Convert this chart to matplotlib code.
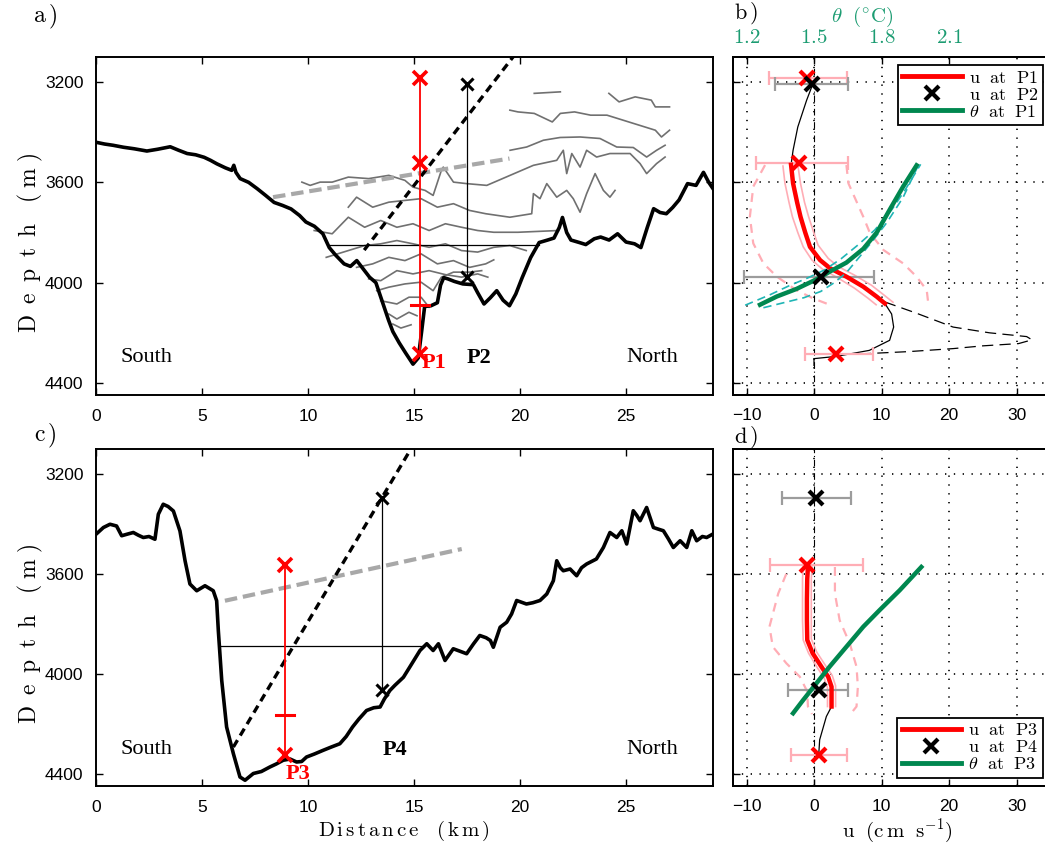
import numpy as np
import matplotlib.pyplot as plt
from matplotlib.lines import Line2D

plt.rcParams['font.family'] = ['Liberation Sans', 'DejaVu Sans']
plt.rcParams['mathtext.fontset'] = 'cm'

# ---------------- sections (distance km, depth m) ----------------
bathy_a = [(0.0, 3440), (0.4, 3447), (0.8, 3452), (1.3, 3460), (1.8, 3466), (2.4, 3475),
           (2.9, 3468), (3.5, 3458), (3.9, 3472), (4.3, 3485), (4.7, 3490), (5.1, 3500),
           (5.4, 3512), (5.7, 3526), (6.1, 3542), (6.4, 3552), (6.5, 3532), (6.6, 3560),
           (6.8, 3585), (7.2, 3600), (7.6, 3625), (8.0, 3652), (8.4, 3680), (8.8, 3692),
           (9.2, 3706), (9.6, 3732), (9.9, 3758), (10.3, 3775), (10.7, 3805), (11.0, 3860),
           (11.3, 3890), (11.7, 3925), (12.0, 3935), (12.3, 3912), (12.6, 3945), (12.9, 3978),
           (13.2, 4000), (13.5, 4075), (13.8, 4150), (14.0, 4195), (14.3, 4240), (14.6, 4280),
           (14.95, 4325), (15.2, 4300), (15.35, 4200), (15.5, 4095), (15.8, 4092), (16.1, 4080),
           (16.25, 4010), (16.4, 3980), (16.6, 3985), (16.9, 3995), (17.3, 4005), (17.8, 4008),
           (18.0, 4040), (18.3, 4085), (18.6, 4060), (18.9, 4032), (19.2, 4070), (19.5, 4092),
           (19.8, 4045), (20.1, 3980), (20.5, 3900), (20.9, 3840), (21.3, 3830), (21.6, 3822),
           (21.85, 3780), (22.0, 3740), (22.2, 3800), (22.4, 3830), (22.8, 3840), (23.1, 3848),
           (23.5, 3825), (23.8, 3818), (24.2, 3830), (24.6, 3805), (25.0, 3838), (25.4, 3845),
           (25.7, 3860), (26.0, 3780), (26.3, 3705), (26.6, 3720), (26.9, 3725), (27.2, 3700),
           (27.5, 3670), (27.9, 3605), (28.3, 3612), (28.65, 3560), (28.9, 3600), (29.1, 3625)]

bathy_c = [(0.0, 3441), (0.35, 3414), (0.66, 3401), (0.97, 3408), (1.21, 3447), (1.5, 3440),
           (1.76, 3434), (2.0, 3445), (2.23, 3454), (2.5, 3450), (2.78, 3461), (2.94, 3361),
           (3.17, 3321), (3.4, 3330), (3.65, 3348), (3.96, 3428), (4.2, 3547), (4.43, 3640),
           (4.75, 3667), (5.14, 3647), (5.53, 3667), (5.69, 3707), (5.77, 3827), (5.93, 4026),
           (6.16, 4212), (6.48, 4319), (6.79, 4412), (7.03, 4425), (7.42, 4398), (7.8, 4390),
           (8.2, 4372), (8.5, 4360), (8.83, 4345), (9.15, 4340), (9.46, 4352), (9.7, 4350),
           (9.93, 4332), (10.3, 4320), (10.72, 4305), (11.1, 4292), (11.5, 4279), (11.8, 4250),
           (12.1, 4212), (12.4, 4180), (12.76, 4146), (13.1, 4135), (13.4, 4132), (13.6, 4100),
           (13.86, 4066), (14.1, 4045), (14.5, 4013), (14.8, 3972), (15.28, 3906), (15.6, 3879),
           (15.9, 3906), (16.15, 3879), (16.46, 3946), (16.85, 3899), (17.2, 3910), (17.48, 3919),
           (17.8, 3880), (18.1, 3846), (18.4, 3855), (18.6, 3866), (18.74, 3893), (19.06, 3813),
           (19.37, 3793), (19.6, 3760), (19.84, 3706), (20.3, 3720), (20.6, 3715), (20.94, 3706),
           (21.26, 3680), (21.57, 3627), (21.73, 3547), (21.9, 3575), (22.04, 3587), (22.36, 3580),
           (22.67, 3607), (22.9, 3575), (23.14, 3560), (23.6, 3540), (23.93, 3494), (24.24, 3434),
           (24.56, 3454), (24.8, 3427), (25.03, 3480), (25.34, 3347), (25.5, 3365), (25.66, 3387),
           (25.97, 3334), (26.29, 3414), (26.5, 3420), (26.76, 3427), (27.0, 3460), (27.23, 3494),
           (27.55, 3467), (27.86, 3494), (28.1, 3427), (28.33, 3467), (28.6, 3450), (28.8, 3454),
           (29.1, 3440)]

# isotherms drawn in section a
isotherms_a = [
    [(20.67, 3245), (21.9, 3239)],
    [(24.19, 3245), (24.67, 3279), (25.43, 3259), (26.19, 3272), (26.38, 3299), (27.05, 3299)],
    [(19.52, 3312), (19.9, 3319), (20.67, 3325), (21.52, 3359), (21.9, 3325), (22.57, 3319),
     (23.33, 3332), (24.1, 3332), (24.86, 3352), (25.62, 3372), (26.38, 3392), (26.67, 3419),
     (27.05, 3392)],
    [(19.53, 3472), (20.31, 3459), (21.1, 3432), (21.89, 3421), (22.83, 3419), (23.77, 3425),
     (24.56, 3459), (25.34, 3461), (25.97, 3499), (26.44, 3472), (26.84, 3452)],
    [(9.71, 3599), (10.1, 3612), (10.57, 3599), (11.14, 3599), (11.9, 3579), (12.86, 3585),
     (13.81, 3572), (14.57, 3592), (14.95, 3619), (15.52, 3632), (15.9, 3652), (16.29, 3552),
     (16.38, 3539), (16.86, 3599), (17.48, 3605), (18.43, 3612), (19.53, 3572), (20.63, 3532),
     (21.73, 3512), (22.04, 3472), (22.2, 3565), (22.44, 3485), (22.83, 3539), (23.14, 3472),
     (23.61, 3499), (24.24, 3485), (25.19, 3485), (25.66, 3525), (25.97, 3565), (26.44, 3525),
     (26.84, 3499)],
    [(11.9, 3699), (12.29, 3659), (13.05, 3699), (13.81, 3679), (14.57, 3672), (15.33, 3665),
     (16.1, 3699), (16.86, 3685), (17.62, 3712), (18.38, 3725), (19.52, 3739), (20.55, 3725),
     (20.63, 3645), (20.94, 3665), (21.26, 3605), (21.73, 3659), (22.2, 3632), (22.51, 3665),
     (22.83, 3719), (23.14, 3645), (23.54, 3565), (23.93, 3632), (24.24, 3659), (24.48, 3632)],
    [(10.29, 3792), (11.14, 3805), (11.9, 3739), (12.67, 3779), (13.43, 3752), (14.19, 3779),
     (14.95, 3765), (15.71, 3792), (16.48, 3765), (17.24, 3779), (18.0, 3792), (18.76, 3799),
     (19.9, 3799), (21.81, 3792)],
    [(10.86, 3899), (11.9, 3872), (12.67, 3852), (13.43, 3845), (14.19, 3832), (14.95, 3845),
     (15.71, 3859), (16.48, 3845), (17.24, 3872), (18.0, 3878), (18.76, 3859), (19.52, 3852),
     (20.29, 3872)],
    [(12.29, 3939), (13.05, 3925), (13.81, 3899), (14.57, 3912), (15.33, 3885), (16.1, 3925),
     (16.86, 3912), (17.62, 3939), (18.38, 3925), (18.76, 3909)],
    [(12.86, 3985), (13.43, 3992), (14.19, 3952), (14.95, 3965), (15.71, 3952), (16.48, 3968),
     (17.24, 3978), (18.0, 3965), (18.48, 3978)],
    [(13.24, 4032), (13.81, 4018), (14.57, 4005), (15.33, 3998), (15.9, 4032), (16.29, 3978),
     (16.86, 3958), (17.62, 3958), (18.19, 3952)],
    [(13.43, 4072), (14.19, 4085), (14.76, 4058), (15.33, 4058), (15.71, 4098)],
    [(13.81, 4125), (14.19, 4145), (14.76, 4118), (15.14, 4132)],
    [(14.0, 4165), (14.38, 4181), (14.86, 4168)],
]

# moorings: position (km) and instrument depths (m)
p1_km, p1_depth, p1_mark = 15.3, [3185, 3523, 4285], 4090
p2_km, p2_depth = 17.5, [3207, 3978]
p3_km, p3_depth, p3_mark = 8.9, [3562, 4325], 4163
p4_km, p4_depth = 13.5, [3297, 4065]

# reference lines in the sections
level_a = ([11.0, 20.9], 3848)
level_c = ([5.9, 15.45], 3889)
slope_a = [(12.65, 3870), (19.85, 3080)]
slope_c = [(6.48, 4292), (14.85, 3100)]
grey_a = [(8.35, 3659), (19.5, 3505)]
grey_c = [(6.08, 3707), (17.25, 3500)]

# ---------------- profiles (u cm/s, depth m) ----------------
u_p1 = [(-3.4, 3530), (-3.1, 3604), (-2.5, 3680), (-2.0, 3737), (-1.3, 3800), (-0.6, 3857),
        (0.9, 3910), (2.4, 3943), (4.8, 3976), (7.3, 4016), (9.3, 4056), (10.5, 4083)]
u_p1_lo = [(-4.6, 3535), (-4.3, 3604), (-3.7, 3680), (-3.2, 3737), (-2.4, 3800), (-1.6, 3857),
           (-0.3, 3910), (1.2, 3945), (3.6, 3982), (6.0, 4022), (8.0, 4062), (9.2, 4088)]
u_p1_hi = [(-2.4, 3530), (-2.0, 3604), (-1.4, 3680), (-0.8, 3737), (-0.1, 3795), (0.6, 3850),
           (2.1, 3903), (3.6, 3936), (6.0, 3970), (8.5, 4010), (10.4, 4050), (11.7, 4078)]
u_p1_min = [(-7.25, 3531), (-9.0, 3617), (-9.5, 3737), (-9.0, 3843), (-7.5, 3923), (-5.5, 3976),
            (-2.6, 4030), (-0.1, 4063), (2.4, 4089)]
u_p1_max = [(4.8, 3531), (5.1, 3604), (7.3, 3737), (8.3, 3803), (10.3, 3870), (13.2, 3923),
            (15.2, 3976), (16.7, 4030), (16.9, 4076)]
u_p1_fit = [(-0.25, 3213), (-1.1, 3273), (-2.4, 3379), (-3.1, 3472), (-3.4, 3530), (-3.1, 3604),
            (-2.5, 3680), (-2.0, 3737), (-1.3, 3800), (-0.6, 3857), (0.9, 3910), (2.4, 3943),
            (4.8, 3976), (7.3, 4016), (9.3, 4056), (10.5, 4083), (11.5, 4125), (11.8, 4177),
            (11.2, 4230), (8.2, 4270), (3.3, 4294), (0.0, 4303), (0.0, 4330)]
u_p1_extra = [(10.5, 4077), (15.0, 4120), (20.6, 4177), (26.0, 4200), (31.5, 4215), (32.3, 4228),
              (30.3, 4243), (25.0, 4252), (20.6, 4263), (14.0, 4275), (7.75, 4283)]

theta_p1 = [(1.956, 3532), (1.896, 3617), (1.839, 3705), (1.779, 3800), (1.719, 3865), (1.644, 3920),
            (1.572, 3955), (1.515, 3985), (1.422, 4025), (1.335, 4055), (1.26, 4088)]
theta_p1_a = [(1.194, 4090), (1.305, 4048), (1.395, 4010), (1.47, 3982), (1.545, 3950), (1.62, 3905),
              (1.695, 3850), (1.77, 3790), (1.845, 3710), (1.905, 3630), (1.974, 3528)]
theta_p1_b = [(1.275, 4100), (1.365, 4080), (1.455, 4060), (1.53, 4035), (1.59, 4000), (1.644, 3960),
              (1.695, 3905), (1.755, 3840), (1.824, 3760), (1.896, 3660), (1.962, 3535)]

p1_u = [-1.0, -2.2, 3.3]
p1_err = [[5.7, 6.4, 4.7], [5.9, 7.2, 5.5]]
p2_u = [-0.25, 1.1]
p2_err = [[5.55, 11.5], [5.25, 7.8]]

u_p3 = [(-0.9, 3572), (-1.0, 3620), (-1.05, 3700), (-1.05, 3785), (-1.0, 3864), (-0.2, 3917),
        (1.1, 3971), (2.1, 4011), (2.6, 4051), (2.6, 4090), (2.6, 4130)]
u_p3_lo = [(-1.6, 3572), (-1.7, 3620), (-1.7, 3700), (-1.7, 3785), (-1.6, 3864), (-0.8, 3917),
           (0.5, 3975), (1.5, 4015), (2.0, 4055), (2.0, 4090), (2.0, 4130)]
u_p3_hi = [(-0.3, 3572), (-0.4, 3620), (-0.4, 3700), (-0.4, 3785), (-0.4, 3860), (0.4, 3912),
           (1.7, 3966), (2.7, 4006), (3.2, 4047), (3.2, 4090), (3.2, 4130)]
u_p3_min = [(-4.1, 3599), (-5.3, 3678), (-6.6, 3811), (-6.1, 3891), (-4.1, 3957), (-2.1, 4011),
            (-1.0, 4070), (-0.9, 4130), (-0.3, 4160)]
u_p3_max = [(3.1, 3572), (3.1, 3678), (3.8, 3785), (5.3, 3878), (6.3, 3971), (6.5, 4051),
            (6.3, 4130), (5.5, 4157)]
u_p3_fit = [(2.6, 4130), (1.83, 4170), (0.84, 4263), (0.7, 4323)]
theta_p3 = [(1.977, 3572), (1.881, 3665), (1.791, 3745), (1.719, 3811), (1.644, 3891), (1.569, 3971),
            (1.511, 4037), (1.452, 4104), (1.407, 4157)]

p3_u = [-1.1, 0.75]
p3_err = [[5.4, 4.2], [8.3, 4.2]]
p4_u = [0.35, 0.7]
p4_err = [[5.1, 4.55], [5.1, 4.3]]

u_ticks = [-10, 0, 10, 20, 30]
theta_ticks = [1.2, 1.5, 1.8, 2.1]
depth_ticks = [3200, 3600, 4000, 4400]
dist_ticks = [0, 5, 10, 15, 20, 25]

RED = '#ff0000'
PINK = '#ffadb5'
GREEN = '#00874f'
TGREEN = '#1c9c72'
CYAN = '#1fb5b5'
GREY = '#9c9c9c'

W, H = 1045, 847
fig = plt.figure(figsize=(W / 100, H / 100), dpi=100)
axA = fig.add_axes([96 / W, 1 - 395 / H, 617 / W, 338 / H])
axC = fig.add_axes([96 / W, 1 - 786 / H, 617 / W, 337 / H])
axB = fig.add_axes([733 / W, 1 - 395 / H, 324 / W, 338 / H])
axD = fig.add_axes([733 / W, 1 - 786 / H, 324 / W, 337 / H])

serif = 'Liberation Serif'


def xy(pairs):
    a = np.array(pairs, dtype=float)
    return a[:, 0], a[:, 1]


def section(ax, bathy, level, slope, grey, pr, pr_depth, pr_mark, pb, pb_depth):
    ax.plot(level[0], [level[1]] * 2, color='k', lw=0.9)
    ax.plot([pb, pb], [pb_depth[0], pb_depth[-1]], color='k', lw=0.9)
    gx, gy = xy(grey)
    ax.plot(gx, gy, color='#a8a8a8', lw=3, linestyle=(0, (3, 1.4)))
    sx, sy = xy(slope)
    ax.plot(sx, sy, color='k', lw=2.4, linestyle=(0, (2.4, 1.6)))
    bx, by = xy(bathy)
    ax.plot(bx, by, color='k', lw=2.6, solid_joinstyle='round')
    ax.plot([pr, pr], [pr_depth[0], pr_depth[-1]], color=RED, lw=1.3)
    ax.plot([pr - 0.42, pr + 0.42], [pr_mark, pr_mark], color=RED, lw=2.2)
    ax.plot([pr] * len(pr_depth), pr_depth, 'x', color=RED, ms=10, mew=2.6)
    ax.plot([pb] * len(pb_depth), pb_depth, 'x', color='k', ms=9, mew=2.2)
    ax.set_xlim(0, 29.1)
    ax.set_ylim(4448, 3100)
    ax.set_xticks(dist_ticks)
    ax.set_yticks(depth_ticks)
    ax.tick_params(direction='in', top=True, right=True, length=5, width=1,
                   labelsize=12.5)
    ax.tick_params(axis='x', pad=10)
    ax.tick_params(axis='y', pad=9)
    for s in ax.spines.values():
        s.set_linewidth(1.4)


# ---------------- panel a ----------------
for line in isotherms_a:
    ix, iy = xy(line)
    axA.plot(ix, iy, color='#707070', lw=1.2)
section(axA, bathy_a, level_a, slope_a, grey_a, p1_km, p1_depth, p1_mark, p2_km, p2_depth)
axA.text(2.4, 4300, 'South', fontsize=16, family=serif, ha='center', va='center')
axA.text(26.25, 4300, 'North', fontsize=16, family=serif, ha='center', va='center')
axA.text(15.35, 4322, 'P1', fontsize=16, family=serif, weight='bold', color=RED,
         ha='left', va='center')
axA.text(17.5, 4302, 'P2', fontsize=16, family=serif, weight='bold', ha='left', va='center')

# ---------------- panel c ----------------
section(axC, bathy_c, level_c, slope_c, grey_c, p3_km, p3_depth, p3_mark, p4_km, p4_depth)
axC.text(2.4, 4302, 'South', fontsize=16, family=serif, ha='center', va='center')
axC.text(26.25, 4302, 'North', fontsize=16, family=serif, ha='center', va='center')
axC.text(8.95, 4398, 'P3', fontsize=16, family=serif, weight='bold', color=RED,
         ha='left', va='center')
axC.text(13.5, 4302, 'P4', fontsize=16, family=serif, weight='bold', ha='left', va='center')


# ---------------- profile panels ----------------
def profile(ax, u_main, u_lo, u_hi, u_min, u_max, fit, theta, red_u, red_depth, red_err,
            blk_u, blk_depth, blk_err, theta_env=None, extra=None):
    ax.set_xlim(-12, 36)
    ax.set_ylim(4448, 3100)
    ax.set_xticks(u_ticks)
    ax.set_yticks(depth_ticks)
    ax.grid(True, color='k', lw=1.2, linestyle=(0, (0.8, 4.5)))
    ax.axvline(0, color='k', lw=0.8, linestyle=(0, (6, 2.5, 1, 2.5)))
    for env in (u_min, u_max):
        ex, ey = xy(env)
        ax.plot(ex, ey, color=PINK, lw=1.6, linestyle=(0, (4, 3)))
    for env in (u_lo, u_hi):
        ex, ey = xy(env)
        ax.plot(ex, ey, color=PINK, lw=1.2)
    if extra is not None:
        ex, ey = xy(extra)
        ax.plot(ex, ey, color='k', lw=0.9, linestyle=(0, (9, 5)))
    fx, fy = xy(fit)
    ax.plot(fx, fy, color='k', lw=0.9)
    ax.errorbar(red_u, red_depth, xerr=red_err, fmt='none', ecolor=PINK, elinewidth=1.6,
                capsize=5, capthick=1.6)
    ax.errorbar(blk_u, blk_depth, xerr=blk_err, fmt='none', ecolor=GREY, elinewidth=1.6,
                capsize=5, capthick=1.6)
    mx, my = xy(u_main)
    ax.plot(mx, my, color=RED, lw=3.2)
    top = ax.twiny()
    top.set_xlim(1.5 + 0.03 * np.array(ax.get_xlim()))
    top.set_xticks(theta_ticks)
    if theta_env is not None:
        for env in theta_env:
            ex, ey = xy(env)
            ax.plot(ex, ey, color=CYAN, lw=1.2, linestyle=(0, (5, 3)),
                    transform=top.transData)
    tx, ty = xy(theta)
    ax.plot(tx, ty, color=GREEN, lw=3.2, transform=top.transData)
    ax.plot(red_u, red_depth, 'x', color=RED, ms=10, mew=3)
    ax.plot(blk_u, blk_depth, 'x', color='k', ms=10, mew=3)
    ax.tick_params(direction='in', length=5, width=1, labelsize=12.5, labelleft=False,
                   pad=9)
    top.tick_params(direction='in', length=5, width=1, pad=7)
    for s in ax.spines.values():
        s.set_linewidth(1.4)
    for s in top.spines.values():
        s.set_linewidth(1.4)
    return top


def legend(ax, names, anchor, loc):
    handles = [Line2D([], [], color=RED, lw=3.5),
               Line2D([], [], color='k', marker='x', ms=10, mew=3, linestyle='none'),
               Line2D([], [], color=GREEN, lw=3.5)]
    leg = ax.legend(handles, names, loc=loc, bbox_to_anchor=anchor,
                    bbox_transform=fig.transFigure, fontsize=13, handlelength=3.3,
                    handletextpad=0.4, labelspacing=0.0, borderpad=0.25,
                    borderaxespad=0, fancybox=False, framealpha=1, edgecolor='k')
    leg.get_frame().set_linewidth(1.3)


topB = profile(axB, u_p1, u_p1_lo, u_p1_hi, u_p1_min, u_p1_max, u_p1_fit, theta_p1,
               p1_u, p1_depth, p1_err, p2_u, p2_depth, p2_err,
               theta_env=(theta_p1_a, theta_p1_b), extra=u_p1_extra)
topB.set_xticklabels([r'$\mathrm{%.1f}$' % t for t in theta_ticks], color=TGREEN,
                     fontsize=15)
legend(axB, [r'$\mathrm{u\ \ at\ \ P1}$', r'$\mathrm{u\ \ at\ \ P2}$',
             r'$\theta\ \ \mathrm{at\ \ P1}$'], (1043 / W, 1 - 65 / H), 'upper right')

topD = profile(axD, u_p3, u_p3_lo, u_p3_hi, u_p3_min, u_p3_max, u_p3_fit, theta_p3,
               p3_u, p3_depth, p3_err, p4_u, p4_depth, p4_err)
topD.tick_params(top=False, labeltop=False)
legend(axD, [r'$\mathrm{u\ \ at\ \ P3}$', r'$\mathrm{u\ \ at\ \ P4}$',
             r'$\theta\ \ \mathrm{at\ \ P3}$'], (1043 / W, 1 - 778 / H), 'lower right')

# ---------------- labels ----------------
fig.text(45 / W, 1 - 17 / H, r'$\mathrm{a\,)}$', fontsize=17, ha='center', va='center')
fig.text(45 / W, 1 - 436 / H, r'$\mathrm{c\,)}$', fontsize=17, ha='center', va='center')
fig.text(746 / W, 1 - 13 / H, r'$\mathrm{b\,)}$', fontsize=16, ha='center', va='center')
fig.text(746 / W, 1 - 437 / H, r'$\mathrm{d\,)}$', fontsize=16, ha='center', va='center')
fig.text(862 / W, 1 - 17 / H, r'$\theta\ \ (^{\circ}\mathrm{C})$', fontsize=15,
         color=TGREEN, ha='center', va='center')
depth_lab = r'$\mathrm{D\;\;e\;\;p\;\;t\;\;h\quad(\;m\;)}$'
fig.text(30 / W, 1 - 243 / H, depth_lab, fontsize=17, rotation=90, ha='center', va='center')
fig.text(30 / W, 1 - 634 / H, depth_lab, fontsize=17, rotation=90, ha='center', va='center')
fig.text(404 / W, 1 - 831 / H, r'$\mathrm{D\,i\,s\,t\,a\,n\,c\,e\ \ \ (\,k\,m\,)}$',
         fontsize=15, ha='center', va='center')
fig.text(897 / W, 1 - 831 / H, r'$\mathrm{u\ \ (c\,m\ \ s^{-1})}$', fontsize=15,
         ha='center', va='center')

fig.savefig('out.png', dpi=100)
